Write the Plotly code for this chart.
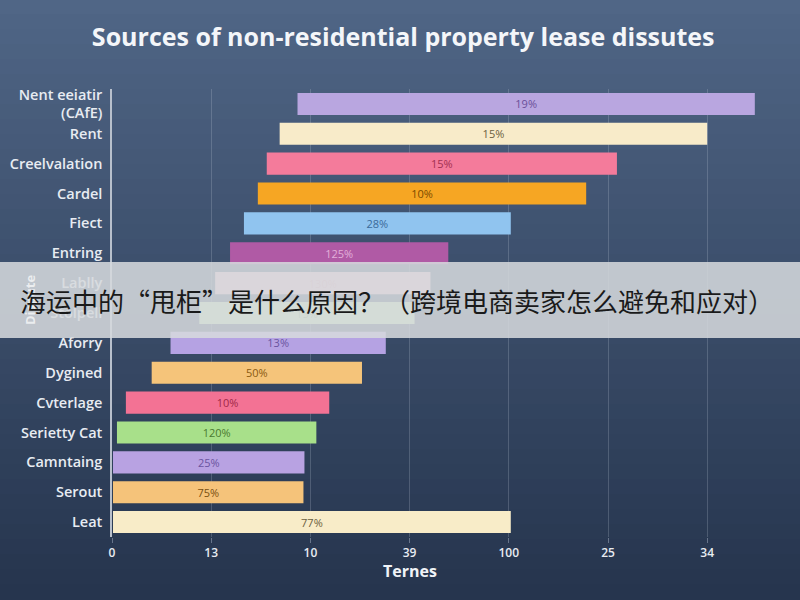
import plotly.graph_objects as go

categories = ["Nent eeiatir<br>(CAfE)", "Rent", "Creelvalation", "Cardel", "Fiect", "Entring",
              "Lablly", "Stolpell", "Aforry", "Dygined", "Cvterlage", "Serietty Cat",
              "Camntaing", "Serout", "Leat"]
bar_start = [1.87, 1.69, 1.56, 1.47, 1.33, 1.19, 1.04, 0.88, 0.59, 0.40, 0.14, 0.05, 0.01, 0.01, 0.01]
bar_end = [6.48, 6.00, 5.09, 4.78, 4.02, 3.39, 3.21, 3.05, 2.76, 2.52, 2.19, 2.06, 1.94, 1.93, 4.02]
bar_labels = ["19%", "15%", "15%", "10%", "28%", "125%", "130%", "15%", "13%", "50%",
              "10%", "120%", "25%", "75%", "77%"]
tick_vals = [0, 1, 2, 3, 4, 5, 6]
tick_text = ["0", "13", "10", "39", "100", "25", "34"]

bar_colors = ["#b9a6e0", "#f8ebc9", "#f47b9b", "#f6a623", "#90c4ef", "#b05aa5",
              "#f7c3d2", "#c8eeb0", "#b5a2e3", "#f5c47a", "#f37294", "#a8e08a",
              "#b8a2e2", "#f5c37a", "#f8ecc8"]
text_colors = ["#6a4f99", "#6b6040", "#a03050", "#7a4a00", "#3a6a9a", "#e2b0da",
               "#e8a0b0", "#8ab070", "#6a54a0", "#8a5a10", "#a02848", "#4a7a30",
               "#6a54a0", "#7a5010", "#6b6040"]

lengths = [e - s for s, e in zip(bar_start, bar_end)]

fig = go.Figure(go.Bar(
    y=categories, x=lengths, base=bar_start, orientation="h",
    marker=dict(color=bar_colors, line=dict(width=0)),
    width=0.74,
    text=bar_labels, textposition="inside", insidetextanchor="middle",
    textfont=dict(color=text_colors, size=11, family="Open Sans"),
    hoverinfo="skip",
))

# background gradient bands
shapes = []
top_c = (0x50, 0x66, 0x86)
bot_c = (0x26, 0x35, 0x4e)
n = 40
y_top, y_bot = 1.1987, -0.1406
for i in range(n):
    t = i / (n - 1)
    c = tuple(int(top_c[k] + (bot_c[k] - top_c[k]) * t) for k in range(3))
    y1 = y_top - (y_top - y_bot) * i / n
    y0 = y_top - (y_top - y_bot) * (i + 1) / n
    if i == 0:
        y1 = 1.4
    if i == n - 1:
        y0 = -0.4
    shapes.append(dict(type="rect", xref="paper", yref="paper", x0=-0.4, x1=1.3,
                       y0=y0 - 0.002, y1=y1 + 0.002, layer="below",
                       fillcolor="rgb(%d,%d,%d)" % c, line=dict(width=0)))

# overlay banner (pixel 262-338)
shapes.append(dict(type="rect", xref="paper", yref="paper", x0=-0.4, x1=1.3,
                   y0=(537 - 338) / 448, y1=(537 - 262) / 448, layer="above",
                   fillcolor="rgba(214,217,221,0.87)", line=dict(width=0)))

fig.update_layout(
    width=800, height=600,
    margin=dict(l=112, r=30, t=89, b=63),
    paper_bgcolor="#34455f", plot_bgcolor="rgba(0,0,0,0)",
    shapes=shapes,
    showlegend=False,
    title=dict(text="<b>Sources of non-residential property lease dissutes</b>",
               x=0.504, xanchor="center", y=1 - 37 / 600, yanchor="middle",
               font=dict(size=25, color="#f4f6f9", family="Open Sans")),
    font=dict(family="Open Sans", color="#e8ecf2"),
    xaxis=dict(range=[0, 6.633], tickvals=tick_vals, ticktext=tick_text, automargin=False,
               showgrid=True, gridcolor="rgba(200,210,225,0.22)", gridwidth=1,
               zeroline=False, showline=False,
               ticks="outside", ticklen=5, tickcolor="rgba(200,210,225,0.4)",
               tickfont=dict(size=12, color="#e8ecf2", weight=600)),
    yaxis=dict(autorange="reversed", showline=True, linecolor="#b8c0cc", linewidth=1.5,
               showgrid=False, ticks="", ticklabelstandoff=5, automargin=False,
               tickfont=dict(size=14.5, color="#e8ecf2", weight=600)),
    annotations=[
        dict(text="<b>Ternes</b>", xref="paper", yref="paper",
             x=(410 - 112) / 658, y=(537 - 571) / 448, xanchor="center", yanchor="middle",
             showarrow=False, font=dict(size=16, color="#f0f3f7")),
        dict(text="<b>Dispute</b>", textangle=-90, xref="paper", yref="paper",
             x=(30 - 112) / 658, y=(537 - 300) / 448, xanchor="center", yanchor="middle",
             showarrow=False, font=dict(size=13, color="rgba(255,255,255,0.7)")),
        dict(text="海运中的“甩柜”是什么原因？（跨境电商卖家怎么避免和应对）",
             xref="paper", yref="paper", x=(18 - 112) / 658, y=(537 - 300) / 448,
             xanchor="left", yanchor="middle", showarrow=False,
             font=dict(size=26, color="#1a1a1a", family="Noto Sans CJK SC"))],
)

fig.write_html("out.html", config={"displayModeBar": False},
               post_script="document.body.style.margin='0';document.body.style.overflow='hidden';")
